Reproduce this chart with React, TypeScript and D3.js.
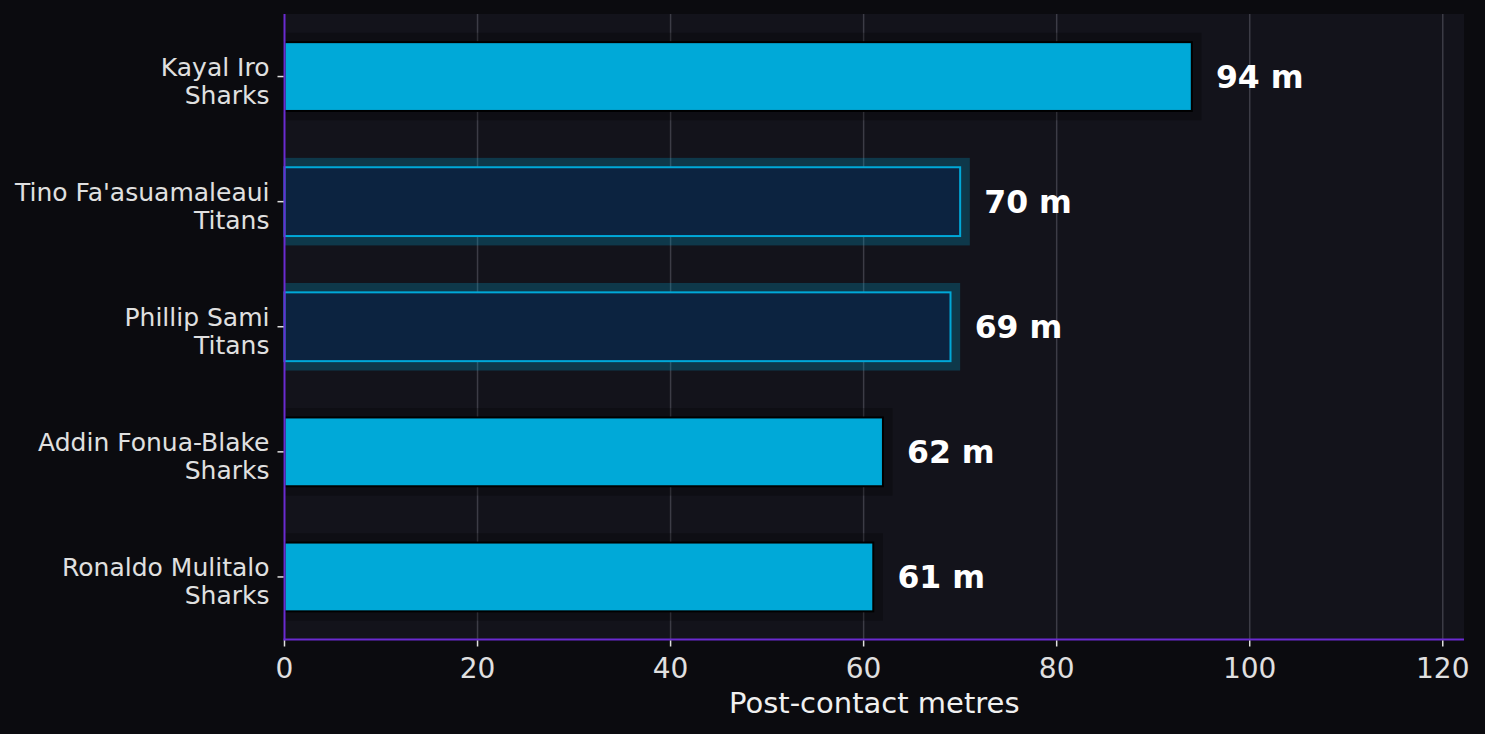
import React, { useEffect, useRef } from 'react';
import * as d3 from 'd3';

// players, top to bottom
const players = ['Kayal Iro', "Tino Fa'asuamaleaui", 'Phillip Sami', 'Addin Fonua-Blake', 'Ronaldo Mulitalo'];
const teams = ['Sharks', 'Titans', 'Titans', 'Sharks', 'Sharks'];
const metres = [94, 70, 69, 62, 61];
const xTicks = [0, 20, 40, 60, 80, 100, 120];

const teamFill: Record<string, string> = { Sharks: '#00a9d8', Titans: '#0c2340' };
const teamEdge: Record<string, string> = { Sharks: '#000000', Titans: '#00a8d8' };

const App: React.FC = () => {
  const ref = useRef<SVGSVGElement | null>(null);

  useEffect(() => {
    document.body.style.margin = '0';
    document.body.style.background = '#0b0b0f';

    const width = 1485, height = 734;
    const margin = { top: 14, right: 21, bottom: 94.5, left: 284.5 };
    const font = "'DejaVu Sans', sans-serif";

    const svg = d3.select(ref.current)
      .attr('width', width)
      .attr('height', height);
    svg.selectAll('*').remove();

    svg.append('rect').attr('width', width).attr('height', height).attr('fill', '#0b0b0f');

    const x = d3.scaleLinear()
      .domain([0, d3.max(metres)! * 1.3])
      .range([margin.left, width - margin.right]);

    const y = d3.scaleLinear()
      .domain([-0.5, players.length - 0.5])
      .range([margin.top, height - margin.bottom]);

    // plot background
    svg.append('rect')
      .attr('x', x(0))
      .attr('y', y(-0.5))
      .attr('width', x.range()[1] - x(0))
      .attr('height', y(players.length - 0.5) - y(-0.5))
      .attr('fill', '#13131b');

    // vertical grid
    svg.append('g')
      .selectAll('line')
      .data(xTicks.slice(1))
      .join('line')
      .attr('x1', d => x(d))
      .attr('x2', d => x(d))
      .attr('y1', y(-0.5))
      .attr('y2', y(players.length - 0.5))
      .attr('stroke', '#3c3c46')
      .attr('stroke-width', 1.5);

    // glow / shadow rect behind each bar
    svg.append('g')
      .selectAll('rect')
      .data(metres)
      .join('rect')
      .attr('x', x(0))
      .attr('y', (d, i) => y(i - 0.35))
      .attr('width', d => x(d + 1) - x(0))
      .attr('height', y(0.35) - y(-0.35))
      .attr('fill', (d, i) => teamEdge[teams[i]])
      .attr('fill-opacity', 0.25);

    // bars
    svg.append('g')
      .selectAll('rect')
      .data(metres)
      .join('rect')
      .attr('x', x(0))
      .attr('y', (d, i) => y(i - 0.275))
      .attr('width', d => x(d) - x(0))
      .attr('height', y(0.275) - y(-0.275))
      .attr('fill', (d, i) => teamFill[teams[i]])
      .attr('stroke', (d, i) => teamEdge[teams[i]])
      .attr('stroke-width', 2);

    // value labels
    svg.append('g')
      .selectAll('text')
      .data(metres)
      .join('text')
      .attr('x', d => x(d + 2.5))
      .attr('y', (d, i) => y(i))
      .attr('dy', '0.36em')
      .style('font-family', font)
      .style('font-size', '31.5px')
      .style('font-weight', 'bold')
      .attr('fill', '#ffffff')
      .text(d => `${d} m`);

    // spines
    svg.append('line')
      .attr('x1', x(0)).attr('x2', x(0))
      .attr('y1', y(-0.5)).attr('y2', y(players.length - 0.5) + 1)
      .attr('stroke', '#6a2bd0').attr('stroke-width', 2);
    svg.append('line')
      .attr('x1', x(0) - 1).attr('x2', x.range()[1])
      .attr('y1', y(players.length - 0.5)).attr('y2', y(players.length - 0.5))
      .attr('stroke', '#6a2bd0').attr('stroke-width', 2);

    // x ticks
    const xAxis = svg.append('g');
    xTicks.forEach(t => {
      xAxis.append('line')
        .attr('x1', x(t)).attr('x2', x(t))
        .attr('y1', y(players.length - 0.5) + 1).attr('y2', y(players.length - 0.5) + 7)
        .attr('stroke', '#e0e0e0').attr('stroke-width', 1.5);
      xAxis.append('text')
        .attr('x', x(t))
        .attr('y', 678)
        .attr('text-anchor', 'middle')
        .style('font-family', font)
        .style('font-size', '28px')
        .attr('fill', '#e0e0e0')
        .text(t);
    });

    svg.append('text')
      .attr('x', (x(0) + x.range()[1]) / 2)
      .attr('y', 713)
      .attr('text-anchor', 'middle')
      .style('font-family', font)
      .style('font-size', '29px')
      .attr('fill', '#f0f0f0')
      .text('Post-contact metres');

    // y ticks + two-line labels
    const yAxis = svg.append('g');
    players.forEach((p, i) => {
      yAxis.append('line')
        .attr('x1', x(0) - 7).attr('x2', x(0) - 1)
        .attr('y1', y(i)).attr('y2', y(i))
        .attr('stroke', '#e0e0e0').attr('stroke-width', 1.5);
      const t = yAxis.append('text')
        .attr('text-anchor', 'end')
        .style('font-family', font)
        .style('font-size', '25px')
        .attr('fill', '#e0e0e0');
      t.append('tspan').attr('x', 269.5).attr('y', y(i) - 0.5).text(p);
      t.append('tspan').attr('x', 269.5).attr('y', y(i) + 27.5).text(teams[i]);
    });
  }, []);

  return (
    <svg ref={ref} style={{ display: 'block' }}></svg>
  );
};

export default App;
